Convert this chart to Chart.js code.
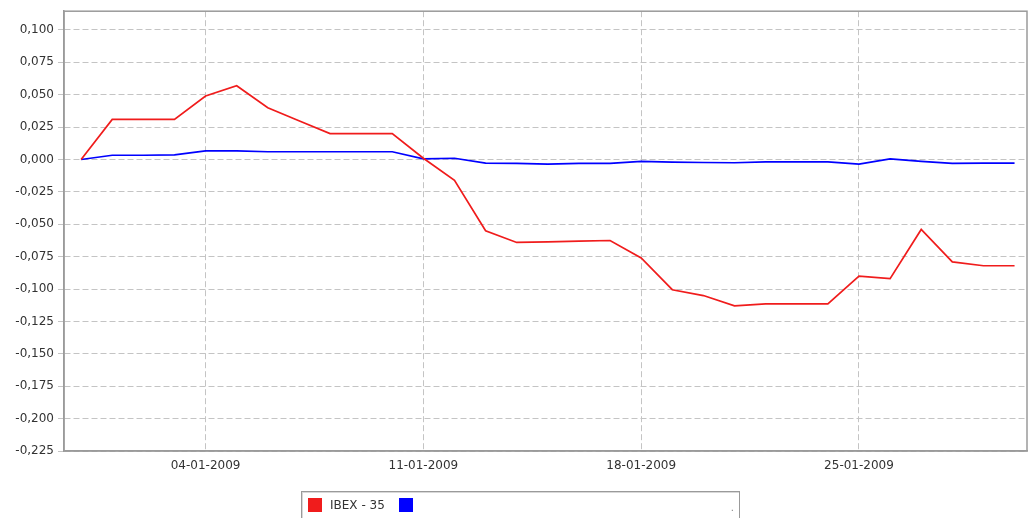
<!DOCTYPE html>
<html>
<head>
<meta charset="utf-8">
<script src="https://cdn.jsdelivr.net/npm/chart.js@4.4.1/dist/chart.umd.min.js"></script>
<style>
  body { margin: 0; background: #fff; font-family: 'DejaVu Sans', sans-serif; }
  #wrap { position: relative; width: 1029px; height: 518px; overflow: hidden; }
  #legend {
    position: absolute; left: 301px; top: 491px; width: 437px; height: 30px;
    border: 1px solid #9a9a9a; box-shadow: inset 1px 1px 0 #d8d8d8;
    font-size: 12px; color: #333;
  }
  #legend .item { position: absolute; top: 6px; display: flex; align-items: center; }
  #legend .sw { width: 14px; height: 14px; margin-right: 8px; }
  #legend .dot { position: absolute; right: 5px; top: 10px; font-size: 10px; color: #888; }
</style>
</head>
<body>
<div id="wrap">
  <canvas id="chart" width="1029" height="518"></canvas>
  <div id="legend"></div>
</div>
<script>
// fechas diarias (eje x)
const dates = [
  '31-12-2008', '01-01-2009', '02-01-2009', '03-01-2009', '04-01-2009', '05-01-2009',
  '06-01-2009', '07-01-2009', '08-01-2009', '09-01-2009', '10-01-2009', '11-01-2009',
  '12-01-2009', '13-01-2009', '14-01-2009', '15-01-2009', '16-01-2009', '17-01-2009',
  '18-01-2009', '19-01-2009', '20-01-2009', '21-01-2009', '22-01-2009', '23-01-2009',
  '24-01-2009', '25-01-2009', '26-01-2009', '27-01-2009', '28-01-2009', '29-01-2009',
  '30-01-2009'
];

const ibex = [
  0.000, 0.031, 0.031, 0.031, 0.049, 0.057, 0.040, 0.030, 0.020, 0.020,
  0.020, 0.001, -0.016, -0.055, -0.064, -0.0635, -0.063, -0.0625, -0.076, -0.1005,
  -0.105, -0.113, -0.1115, -0.1115, -0.1115, -0.090, -0.092, -0.054, -0.079, -0.082,
  -0.082
];

const other = [
  0.000, 0.0033, 0.0033, 0.0036, 0.0067, 0.0067, 0.006, 0.006, 0.006, 0.006,
  0.006, 0.0005, 0.001, -0.0028, -0.003, -0.0035, -0.003, -0.003, -0.0015, -0.002,
  -0.0023, -0.0025, -0.0018, -0.0018, -0.0018, -0.0036, 0.0005, -0.0015, -0.003, -0.0028,
  -0.0028
];

const seriesNames = ['IBEX - 35', ''];
const seriesColors = ['#f01c1c', '#0000ff'];

const xTickLabels = ['04-01-2009', '11-01-2009', '18-01-2009', '25-01-2009'];
const yTicks = [0.100, 0.075, 0.050, 0.025, 0.000, -0.025, -0.050, -0.075, -0.100,
  -0.125, -0.150, -0.175, -0.200, -0.225];

const toPoints = arr => arr.map((v, i) => ({ x: i, y: v }));

// marco gris alrededor del área
const frame = {
  id: 'frame',
  afterDraw(chart) {
    const a = chart.chartArea, c = chart.ctx;
    c.save();
    c.strokeStyle = '#9a9a9a';
    c.lineWidth = 1.5;
    c.strokeRect(a.left, a.top, a.right - a.left, a.bottom - a.top);
    c.restore();
  }
};

const grid = {
  color: '#c4c4c4',
  lineWidth: 1,
};
const tickFont = { family: "'DejaVu Sans'", size: 12 };

new Chart(document.getElementById('chart'), {
  type: 'line',
  data: {
    datasets: [
      { label: seriesNames[0], data: toPoints(ibex), borderColor: seriesColors[0], borderWidth: 1.7, pointRadius: 0, tension: 0 },
      { label: seriesNames[1], data: toPoints(other), borderColor: seriesColors[1], borderWidth: 1.7, pointRadius: 0, tension: 0 }
    ]
  },
  options: {
    responsive: false,
    animation: false,
    layout: { padding: { top: 10, right: 2, left: 0, bottom: 27 } },
    plugins: { legend: { display: false }, tooltip: { enabled: false } },
    scales: {
      x: {
        type: 'linear',
        min: -0.55,
        max: 30.4,
        afterBuildTicks: axis => { axis.ticks = xTickLabels.map(l => ({ value: dates.indexOf(l) })); },
        afterFit: axis => { axis.height = 40; },
        grid: { ...grid, drawTicks: false },
        border: { display: true, color: '#9a9a9a', width: 1.5, dash: [6, 3] },
        ticks: {
          color: '#333',
          padding: 8,
          maxRotation: 0,
          autoSkip: false,
          font: tickFont,
          callback: v => dates[v]
        }
      },
      y: {
        min: -0.225,
        max: 0.1145,
        afterBuildTicks: axis => { axis.ticks = yTicks.map(v => ({ value: v })); },
        afterFit: axis => { axis.width = 64; },
        grid: { ...grid, tickLength: 6 },
        border: { display: true, color: '#9a9a9a', width: 1.5, dash: [6, 3] },
        ticks: {
          color: '#333',
          padding: 4,
          font: tickFont,
          callback: v => v.toFixed(3).replace('.', ',')
        }
      }
    }
  },
  plugins: [frame]
});

// leyenda en caja, como en el original
const legend = document.getElementById('legend');
const lefts = [6, 97];
seriesNames.forEach((name, i) => {
  const it = document.createElement('div');
  it.className = 'item';
  it.style.left = lefts[i] + 'px';
  it.innerHTML = `<span class="sw" style="background:${seriesColors[i]}"></span><span>${name}</span>`;
  legend.appendChild(it);
});
const dot = document.createElement('span');
dot.className = 'dot';
dot.textContent = '.';
legend.appendChild(dot);
</script>
</body>
</html>
